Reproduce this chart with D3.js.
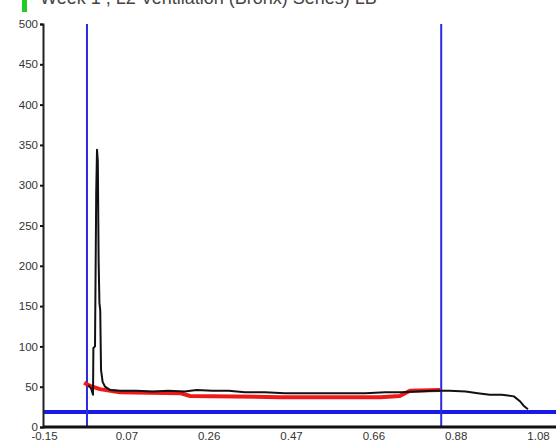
<!DOCTYPE html>
<html><head><meta charset="utf-8">
<script src="https://cdn.jsdelivr.net/npm/d3@7"></script>
<style>html,body{margin:0;padding:0;background:#fff;overflow:hidden}svg{display:block}</style>
</head><body><svg id="c" width="556" height="446"></svg>
<script>
const title = "Week 1 , L2 Ventilation (Bronx) Series) LB";
const yTicks = [0, 50, 100, 150, 200, 250, 300, 350, 400, 450, 500];
const xTickLabels = ["-0.15", "0.07", "0.26", "0.47", "0.66", "0.88", "1.08"];
const blackX = [-0.040, -0.033, -0.028, -0.027, -0.023, -0.020, -0.018, -0.016, -0.014, -0.012, -0.010, -0.008, -0.004, 0.002, 0.014, 0.04, 0.08, 0.12, 0.16, 0.20, 0.23, 0.27, 0.31, 0.35, 0.40, 0.45, 0.50, 0.55, 0.60, 0.65, 0.70, 0.74, 0.78, 0.82, 0.86, 0.90, 0.93, 0.96, 0.99, 1.02, 1.035, 1.045, 1.055];
const blackY = [52, 48, 40, 98, 100, 290, 344, 330, 207, 154, 145, 71, 56, 50, 46, 45, 45, 44, 45, 44, 46, 45, 45, 43, 43, 42, 42, 42, 42, 42, 43, 43, 44, 45, 45, 44, 42, 40, 40, 38, 32, 26, 22];
const redX = [-0.050, -0.035, -0.011, 0.039, 0.189, 0.214, 0.438, 0.687, 0.736, 0.761, 0.836];
const redY = [55, 51, 47, 43, 42, 38.5, 37, 37, 38.5, 45, 46];
const limitX = [-0.043, 0.839];
const limitY = 18.6;

const svg = d3.select("#c");
const x = d3.scaleLinear().domain([-0.15, 1.08]).range([44, 538]);
const y = d3.scaleLinear().domain([0, 500]).range([427, 24]);
const xLeft = 43, xRight = 556;

// title (partially clipped at top, as in the reference)
svg.append("rect").attr("x", 22).attr("y", 0).attr("width", 5).attr("height", 12).attr("fill", "#22cc22");
svg.append("text").attr("x", 40).attr("y", 4).attr("font-family", "Liberation Sans, Arial, sans-serif")
  .attr("font-size", 18).attr("fill", "#444").text(title);

// limit lines
svg.append("line").attr("x1", xLeft).attr("x2", xRight).attr("y1", y(limitY)).attr("y2", y(limitY))
  .attr("stroke", "#1a1ae6").attr("stroke-width", 4);
svg.selectAll(".vl").data(limitX).join("line").attr("class", "vl")
  .attr("x1", d => x(d)).attr("x2", d => x(d)).attr("y1", y(500)).attr("y2", y(0))
  .attr("stroke", "#2a2ae0").attr("stroke-width", 2);

const line = d3.line().x(d => x(d[0])).y(d => y(d[1]));
svg.append("path").datum(redX.map((v, i) => [v, redY[i]])).attr("d", line)
  .attr("fill", "none").attr("stroke", "#ee1a1a").attr("stroke-width", 4).attr("stroke-linejoin", "round");
svg.append("path").datum(blackX.map((v, i) => [v, blackY[i]])).attr("d", line)
  .attr("fill", "none").attr("stroke", "#111").attr("stroke-width", 2).attr("stroke-linejoin", "round");

// y axis
const yAxis = d3.axisLeft(y).tickValues(yTicks).tickSize(3).tickPadding(2);
const gy = svg.append("g").attr("transform", `translate(${xLeft},0)`).call(yAxis);
gy.select(".domain").attr("stroke", "#222").attr("stroke-width", 2);
gy.selectAll(".tick line").attr("stroke", "#111").attr("stroke-width", 2);
gy.selectAll("text").attr("font-family", "Liberation Sans, Arial, sans-serif").attr("font-size", 11.5).attr("fill", "#333");

// x axis
const xTickVals = xTickLabels.map((_, i) => -0.15 + i * 1.23 / 6);
const xAxis = d3.axisBottom(x).tickValues(xTickVals).tickSize(0).tickPadding(5)
  .tickFormat((d, i) => xTickLabels[i]);
const gx = svg.append("g").attr("transform", `translate(0,${y(0)})`).call(xAxis);
gx.select(".domain").remove();
gx.selectAll("text").attr("font-family", "Liberation Sans, Arial, sans-serif").attr("font-size", 11.5).attr("fill", "#333");
svg.append("line").attr("x1", xLeft).attr("x2", xRight).attr("y1", y(0)).attr("y2", y(0))
  .attr("stroke", "#111").attr("stroke-width", 3);
</script></body></html>
